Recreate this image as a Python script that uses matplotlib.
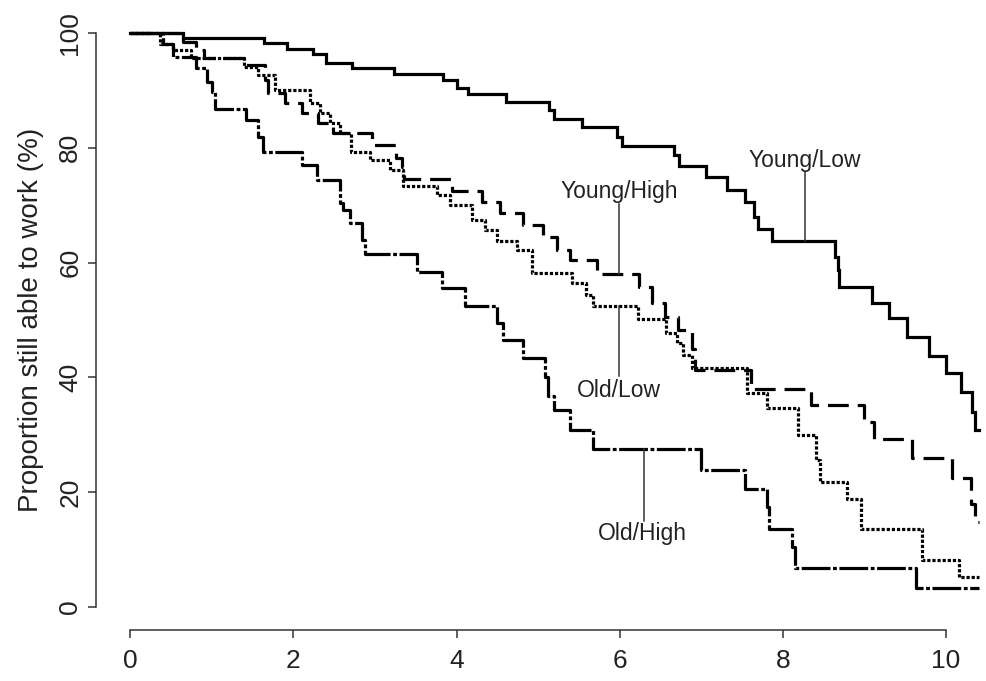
import matplotlib
matplotlib.use("Agg")
import matplotlib.pyplot as plt

plt.rcParams['font.family'] = ['Liberation Sans', 'DejaVu Sans']

# step times (years) and proportion (%) after each step
young_low_t = [0, 0.65, 1.64, 1.92, 2.24, 2.40, 2.72, 3.23, 3.83, 4.01, 4.14, 4.60, 5.13, 5.20,
               5.54, 5.97, 6.03, 6.67, 6.73, 7.06, 7.32, 7.53, 7.65, 7.69, 7.87, 8.64, 8.67,
               8.69, 9.09, 9.30, 9.52, 9.79, 10.00, 10.18, 10.32, 10.35, 10.40]
young_low_p = [100, 99.2, 98.2, 97.2, 96.3, 94.8, 93.9, 92.9, 91.8, 90.4, 89.4, 87.9, 86.6, 85.0,
               83.6, 81.9, 80.3, 78.7, 76.8, 74.9, 72.6, 70.5, 67.9, 65.9, 63.8, 61.0, 58.7,
               55.8, 53.0, 50.3, 47.0, 43.7, 40.8, 37.5, 34.0, 30.8, 30.8]

young_high_t = [0, 0.65, 0.80, 0.90, 1.40, 1.65, 1.69, 1.90, 2.10, 2.30, 2.48, 2.96, 3.26, 3.33,
                3.36, 3.94, 4.31, 4.53, 4.81, 5.06, 5.23, 5.39, 5.72, 6.24, 6.40, 6.55, 6.72,
                6.88, 6.92, 7.61, 8.35, 9.00, 9.12, 9.58, 10.07, 10.31, 10.36, 10.40]
young_high_p = [100, 98.5, 97.0, 95.6, 94.5, 91.8, 89.5, 87.8, 86.0, 84.3, 82.6, 80.5, 78.2, 76.7,
                74.6, 72.5, 70.6, 68.6, 66.6, 64.5, 62.2, 60.5, 58.0, 55.7, 53.0, 50.5, 48.3,
                45.0, 41.3, 38.0, 35.2, 32.3, 29.3, 26.0, 22.5, 18.0, 14.8, 14.8]

old_low_t = [0, 0.37, 0.52, 0.75, 1.40, 1.57, 1.78, 2.20, 2.33, 2.45, 2.57, 2.70, 2.94, 3.18,
             3.34, 3.76, 3.92, 4.19, 4.35, 4.50, 4.74, 4.92, 5.41, 5.59, 5.67, 6.22, 6.57,
             6.70, 6.77, 6.89, 7.56, 7.81, 8.18, 8.41, 8.45, 8.78, 8.96, 9.71, 10.16, 10.40]
old_low_p = [100, 98.1, 97.0, 95.6, 94.0, 92.7, 90.0, 87.8, 86.0, 84.3, 82.6, 79.3, 77.9, 76.1,
             73.3, 71.8, 70.0, 67.4, 65.7, 63.8, 62.2, 58.2, 56.4, 54.4, 52.4, 50.2, 47.7,
             46.0, 43.9, 41.6, 37.3, 34.7, 30.0, 25.6, 21.8, 18.8, 13.6, 8.2, 5.2, 5.2]

old_high_t = [0, 0.40, 0.52, 0.80, 0.94, 1.00, 1.04, 1.42, 1.57, 1.63, 2.10, 2.29, 2.57, 2.61,
              2.69, 2.84, 2.88, 3.52, 3.82, 4.10, 4.50, 4.57, 4.81, 5.08, 5.12, 5.20, 5.39,
              5.67, 7.00, 7.53, 7.81, 7.83, 8.11, 8.15, 9.63, 10.40]
old_high_p = [100, 98.0, 95.8, 93.9, 91.5, 89.7, 86.8, 84.8, 81.9, 79.3, 77.0, 74.4, 70.4, 69.2,
              66.9, 63.9, 61.5, 58.4, 55.6, 52.4, 49.4, 46.5, 43.3, 40.0, 36.8, 34.3, 30.8,
              27.5, 23.9, 20.6, 17.4, 13.6, 10.5, 6.8, 3.3, 3.3]

labels = ["Young/Low", "Young/High", "Old/Low", "Old/High"]
label_x = [8.27, 5.99, 5.99, 6.28]
label_y = [76.7, 71.3, 36.6, 11.7]
# leader line: x, from, to
lead_x = [8.27, 5.99, 5.99, 6.30]
lead_y0 = [75.8, 70.2, 40.3, 14.9]
lead_y1 = [63.8, 58.0, 52.4, 27.5]

x_ticks = [0, 2, 4, 6, 8, 10]
y_ticks = [0, 20, 40, 60, 80, 100]

fig = plt.figure(figsize=(9.86, 6.81), dpi=100)
ax = fig.add_axes([0.0974, 0.0749, 0.9026, 0.9104])

lw = 2.3
ax.step(young_low_t, young_low_p, where='post', color='black', lw=lw, solid_joinstyle='miter')
ax.step(young_high_t, young_high_p, where='post', color='black', lw=lw, linestyle=(0, (6.5, 2.8)))
ax.step(old_low_t, old_low_p, where='post', color='black', lw=lw, linestyle=(0, (1.0, 0.6)))
ax.step(old_high_t, old_high_p, where='post', color='black', lw=lw,
        linestyle=(0, (9, 0.8, 1.2, 0.8)))

for i in range(len(labels)):
    ax.plot([lead_x[i], lead_x[i]], [lead_y0[i], lead_y1[i]], color='#333333', lw=1.1)
    ax.text(label_x[i], label_y[i], labels[i], ha='center', va='baseline',
            fontsize=16.5, color='#222222')

ax.set_xlim(-0.42, 10.49)
ax.set_ylim(-4, 104)
ax.set_xticks(x_ticks)
ax.set_yticks(y_ticks)
ax.set_xticklabels([str(v) for v in x_ticks])
ax.set_yticklabels([str(v) for v in y_ticks], rotation=90, va='center')

for s in ['top', 'right']:
    ax.spines[s].set_visible(False)
ax.spines['left'].set_bounds(0, 100)
ax.spines['bottom'].set_bounds(0, 10)
for s in ['left', 'bottom']:
    ax.spines[s].set_color('#333333')
    ax.spines[s].set_linewidth(1.1)
ax.tick_params(axis='both', direction='out', length=6, width=1.1, color='#333333',
               labelsize=19, labelcolor='#222222')
ax.tick_params(axis='x', pad=8)
ax.tick_params(axis='y', pad=4)

ax.set_ylabel("Proportion still able to work (%)", fontsize=20, color='#222222')
ax.yaxis.set_label_coords(-0.058, 0.5)

fig.savefig("out.png", dpi=100)
